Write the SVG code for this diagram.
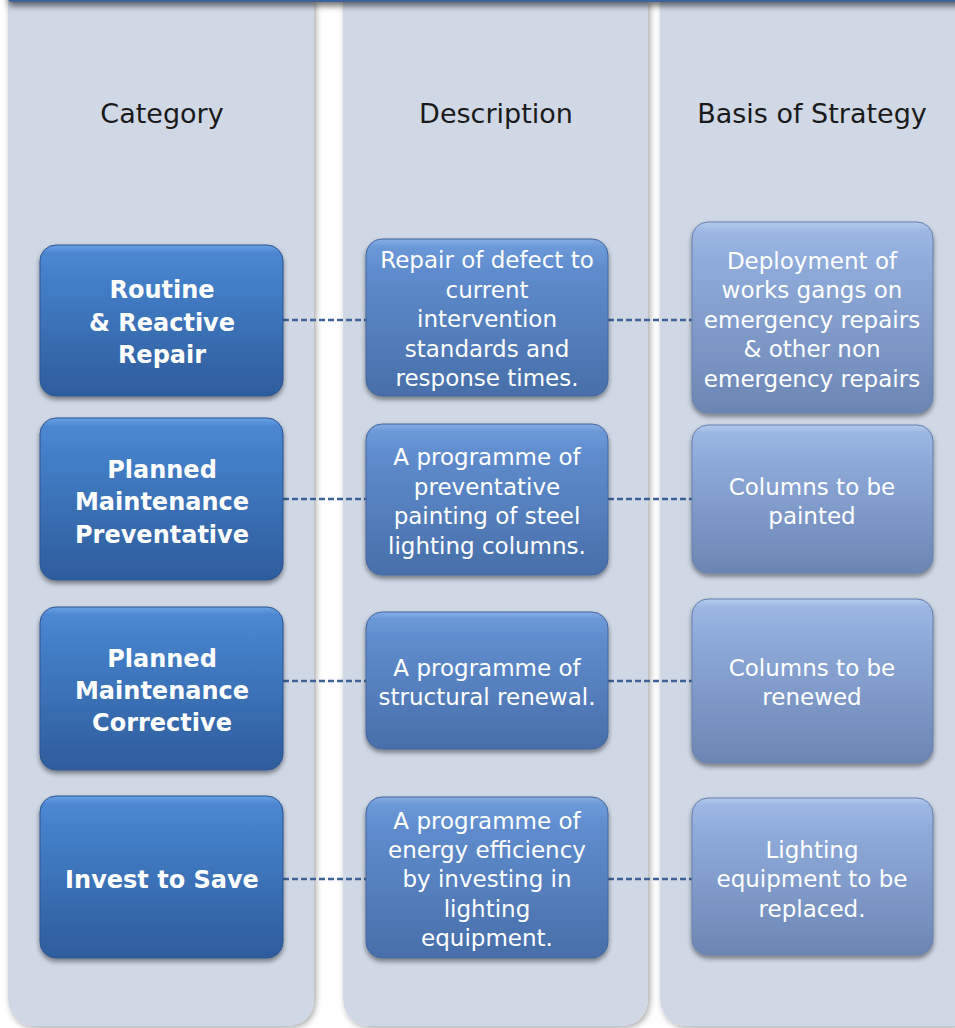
<svg xmlns="http://www.w3.org/2000/svg" width="955" height="1028" viewBox="0 0 955 1028">
<defs>
<style>
.col{fill:#d0d8e6;}
.hdr{font-family:"DejaVu Sans",sans-serif;font-size:27px;fill:#1a1a1a;text-anchor:middle;}
.t1{font-family:"DejaVu Sans",sans-serif;font-size:24px;font-weight:bold;fill:#ffffff;text-anchor:middle;}
.t2{font-family:"DejaVu Sans",sans-serif;font-size:23px;fill:#ffffff;text-anchor:middle;}
.b1{fill:url(#g1);stroke:#2d5590;stroke-width:1;filter:url(#sh);}
.b2{fill:url(#g2);stroke:#44669c;stroke-width:1;filter:url(#sh);}
.b3{fill:url(#g3);stroke:#6680ad;stroke-width:1;filter:url(#sh);}
.con{stroke:#3c6297;stroke-width:2.5;stroke-dasharray:6 3;fill:none;}
</style>
<linearGradient id="g1" x1="0" y1="0" x2="0" y2="1">
<stop offset="0" stop-color="#6aa2e4"/>
<stop offset="0.05" stop-color="#4d87d2"/>
<stop offset="0.2" stop-color="#4480c9"/>
<stop offset="1" stop-color="#2e5c9c"/>
</linearGradient>
<linearGradient id="g2" x1="0" y1="0" x2="0" y2="1">
<stop offset="0" stop-color="#86aee6"/>
<stop offset="0.05" stop-color="#6c99d8"/>
<stop offset="0.2" stop-color="#5f8ccd"/>
<stop offset="1" stop-color="#486fa9"/>
</linearGradient>
<linearGradient id="g3" x1="0" y1="0" x2="0" y2="1">
<stop offset="0" stop-color="#b4cbee"/>
<stop offset="0.05" stop-color="#9cb7e3"/>
<stop offset="0.2" stop-color="#90acdb"/>
<stop offset="1" stop-color="#6c86b4"/>
</linearGradient>
<filter id="sh" x="-10%" y="-10%" width="120%" height="130%">
<feDropShadow dx="0" dy="3" stdDeviation="2.5" flood-color="#000000" flood-opacity="0.45"/>
</filter>
<filter id="csh" x="-10%" y="-5%" width="120%" height="110%">
<feDropShadow dx="2" dy="2" stdDeviation="3" flood-color="#000000" flood-opacity="0.35"/>
</filter>
<filter id="tsh" x="-5%" y="-100%" width="110%" height="400%">
<feDropShadow dx="0" dy="4" stdDeviation="3" flood-color="#000000" flood-opacity="0.55"/>
</filter>
</defs>

<g id="columns">
<path class="col" filter="url(#csh)" d="M8 0 H314 V996 Q314 1026 284 1026 H38 Q8 1026 8 996 Z"/>
<path class="col" filter="url(#csh)" d="M343 0 H648 V996 Q648 1026 618 1026 H373 Q343 1026 343 996 Z"/>
<path class="col" filter="url(#csh)" d="M660 0 H980 V996 Q980 1026 950 1026 H690 Q660 1026 660 996 Z"/>
</g>
<g id="topbar">
<rect x="8" y="-20" width="960" height="22" rx="4" fill="#3e6299" filter="url(#tsh)"/>
</g>

<g id="headers">
<text class="hdr" x="162" y="123">Category</text>
<text class="hdr" x="496" y="123">Description</text>
<text class="hdr" x="812" y="123">Basis of Strategy</text>
</g>

<g id="connectors">
<line class="con" x1="283" y1="320" x2="366" y2="320"/>
<line class="con" x1="608" y1="320" x2="692" y2="320"/>
<line class="con" x1="283" y1="499" x2="366" y2="499"/>
<line class="con" x1="608" y1="499" x2="692" y2="499"/>
<line class="con" x1="283" y1="681" x2="366" y2="681"/>
<line class="con" x1="608" y1="681" x2="692" y2="681"/>
<line class="con" x1="283" y1="879" x2="366" y2="879"/>
<line class="con" x1="608" y1="879" x2="692" y2="879"/>
</g>

<g id="cat1">
<rect class="b1" x="40" y="245" width="243" height="151" rx="16"/>
<text class="t1" x="162" y="298">Routine</text>
<text class="t1" x="162" y="330.5">&amp; Reactive</text>
<text class="t1" x="162" y="363">Repair</text>
</g>
<g id="cat2">
<rect class="b1" x="40" y="418" width="243" height="162" rx="16"/>
<text class="t1" x="162" y="477.5">Planned</text>
<text class="t1" x="162" y="510">Maintenance</text>
<text class="t1" x="162" y="542.5">Preventative</text>
</g>
<g id="cat3">
<rect class="b1" x="40" y="607" width="243" height="163" rx="16"/>
<text class="t1" x="162" y="666.5">Planned</text>
<text class="t1" x="162" y="698.5">Maintenance</text>
<text class="t1" x="162" y="731">Corrective</text>
</g>
<g id="cat4">
<rect class="b1" x="40" y="796" width="243" height="162" rx="16"/>
<text class="t1" x="162" y="887.5">Invest to Save</text>
</g>

<g id="desc1">
<rect class="b2" x="366" y="239" width="242" height="157" rx="16"/>
<text class="t2" x="487" y="268">Repair of defect to</text>
<text class="t2" x="487" y="297.5">current</text>
<text class="t2" x="487" y="327">intervention</text>
<text class="t2" x="487" y="356.5">standards and</text>
<text class="t2" x="487" y="386">response times.</text>
</g>
<g id="desc2">
<rect class="b2" x="366" y="424" width="242" height="151" rx="16"/>
<text class="t2" x="487" y="465">A programme of</text>
<text class="t2" x="487" y="495">preventative</text>
<text class="t2" x="487" y="524">painting of steel</text>
<text class="t2" x="487" y="554">lighting columns.</text>
</g>
<g id="desc3">
<rect class="b2" x="366" y="612" width="242" height="137" rx="16"/>
<text class="t2" x="487" y="676">A programme of</text>
<text class="t2" x="487" y="705">structural renewal.</text>
</g>
<g id="desc4">
<rect class="b2" x="366" y="797" width="242" height="161" rx="16"/>
<text class="t2" x="487" y="829">A programme of</text>
<text class="t2" x="487" y="858">energy efficiency</text>
<text class="t2" x="487" y="887">by investing in</text>
<text class="t2" x="487" y="917">lighting</text>
<text class="t2" x="487" y="946">equipment.</text>
</g>

<g id="basis1">
<rect class="b3" x="692" y="222" width="241" height="191" rx="16"/>
<text class="t2" x="812" y="269">Deployment of</text>
<text class="t2" x="812" y="298">works gangs on</text>
<text class="t2" x="812" y="328">emergency repairs</text>
<text class="t2" x="812" y="357">&amp; other non</text>
<text class="t2" x="812" y="387">emergency repairs</text>
</g>
<g id="basis2">
<rect class="b3" x="692" y="425" width="241" height="148" rx="16"/>
<text class="t2" x="812" y="495">Columns to be</text>
<text class="t2" x="812" y="524">painted</text>
</g>
<g id="basis3">
<rect class="b3" x="692" y="599" width="241" height="164" rx="16"/>
<text class="t2" x="812" y="676">Columns to be</text>
<text class="t2" x="812" y="705">renewed</text>
</g>
<g id="basis4">
<rect class="b3" x="692" y="798" width="241" height="157" rx="16"/>
<text class="t2" x="812" y="858">Lighting</text>
<text class="t2" x="812" y="887">equipment to be</text>
<text class="t2" x="812" y="917">replaced.</text>
</g>
</svg>
